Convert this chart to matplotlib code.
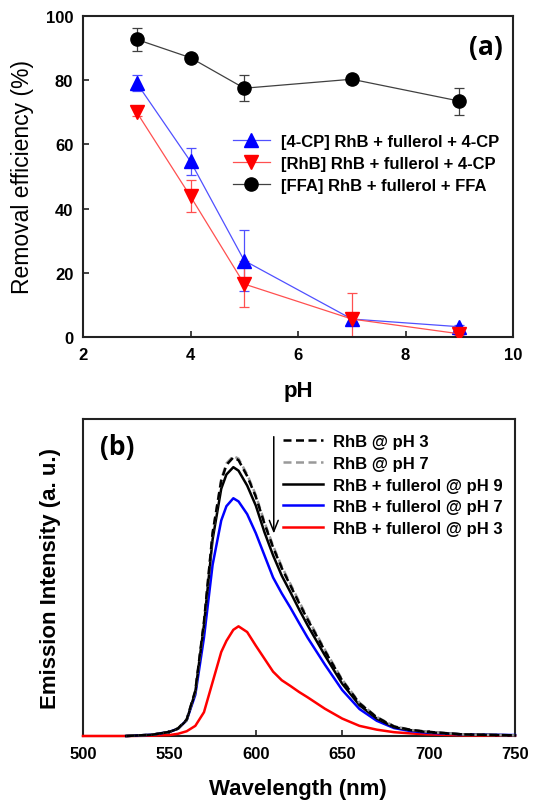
import matplotlib
matplotlib.use("Agg")
import matplotlib.pyplot as plt
import numpy as np

plt.rcParams['font.family'] = ['Liberation Sans', 'DejaVu Sans']

# ---------------- data (a) ----------------
ph = [3, 4, 5, 7, 9]
cp_eff = [79.1, 54.7, 23.8, 5.6, 3.2]
cp_err = [2.5, 4.3, 9.5, 1.0, 0.5]
rhb_eff = [70.0, 43.8, 16.5, 5.6, 1.0]
rhb_err = [1.0, 5.0, 7.3, 8.0, 0.5]
ffa_eff = [92.7, 87.0, 77.5, 80.3, 73.5]
ffa_err = [3.5, 1.0, 4.0, 1.0, 4.2]
labels_a = ["[4-CP] RhB + fullerol + 4-CP",
            "[RhB] RhB + fullerol + 4-CP",
            "[FFA] RhB + fullerol + FFA"]

# ---------------- data (b) ----------------
nan = np.nan
wl = [500, 525, 540, 550, 555, 560, 565, 570, 575, 580, 583, 587, 590, 595,
      600, 605, 610, 615, 620, 625, 630, 640, 650, 660, 670, 680, 690, 700, 720, 750]
rhb_ph3 = [nan, 0, 0.4, 1.3, 2.4, 5.2, 14.3, 36, 64, 80.5, 85.5, 87.9, 87, 82,
           75.5, 67, 59.5, 53, 47.5, 42, 36.7, 26.8, 17.5, 10.3, 5.9, 3, 1.9, 1.3, 0.5, 0.2]
rhb_ph7 = [nan, 0, 0.4, 1.3, 2.4, 5.1, 14.0, 35.5, 64, 81, 86, 88.3, 87.5, 82.5,
           76, 67.5, 60, 53.5, 48, 42.5, 37.2, 27.2, 17.8, 10.5, 6, 3.1, 1.9, 1.3, 0.5, 0.2]
ful_ph9 = [nan, 0, 0.4, 1.3, 2.3, 5, 13.9, 35, 62, 78, 82.5, 84.8, 83.7, 79,
           72.7, 64.3, 57, 50.6, 45.4, 40, 34.9, 25.4, 16.5, 9.7, 5.5, 2.8, 1.8, 1.2, 0.5, 0.2]
ful_ph7 = [nan, 0, 0.4, 1.3, 2.3, 5, 13, 31, 54, 68, 72.5, 75, 74, 70,
           64, 57, 50, 45, 40.5, 35.7, 31, 22.5, 14.5, 8.5, 4.8, 2.5, 1.5, 1.0, 0.5, 0.3]
ful_ph3 = [0, 0, 0.1, 0.3, 0.7, 1.5, 3.2, 7.5, 17, 26.5, 30, 33.5, 34.6, 32.8,
           28.5, 24.4, 20.3, 17.6, 15.8, 13.9, 12.2, 8.6, 5.5, 3.2, 2.0, 1.2, 0.8, 0.5, 0.2, 0.1]
labels_b = ["RhB @ pH 3", "RhB @ pH 7", "RhB + fullerol @ pH 9",
            "RhB + fullerol @ pH 7", "RhB + fullerol @ pH 3"]

fig = plt.figure(figsize=(5.39, 8.04), dpi=100)
W, H = 539, 804
ax1 = fig.add_axes([83 / W, 1 - 338 / H, 430 / W, 321 / H])
ax2 = fig.add_axes([83 / W, 1 - 737 / H, 432 / W, 317 / H])

for ax in (ax1, ax2):
    for sp in ax.spines.values():
        sp.set_color('#222222')
        sp.set_linewidth(1.5)
    ax.tick_params(direction='in', length=4, width=1.2, color='#222222',
                   labelsize=12, pad=7)

# ---- panel (a)
specs = [(cp_eff, cp_err, '^', '#0000ff', '#5050ff'),
         (rhb_eff, rhb_err, 'v', '#ff0000', '#ff5050'),
         (ffa_eff, ffa_err, 'o', '#000000', '#404040')]
handles = []
for (y, e, m, c, lc), lab in zip(specs, labels_a):
    ax1.errorbar(ph, y, yerr=e, fmt='none', ecolor=lc, elinewidth=0.9,
                 capsize=3.5, capthick=0.9, zorder=2)
    h, = ax1.plot(ph, y, '-', color=lc, lw=0.9, marker=m, ms=9.5,
                  mfc=c, mec=c, label=lab, zorder=3)
    handles.append(h)
ax1.set_xlim(2, 10)
ax1.set_ylim(0, 100)
ax1.set_xticks([2, 4, 6, 8, 10])
ax1.set_yticks([0, 20, 40, 60, 80, 100])
for t in ax1.get_xticklabels() + ax1.get_yticklabels():
    t.set_fontweight('bold')
ax1.set_xlabel('pH', fontsize=16, fontweight='bold', va='center')
ax1.xaxis.set_label_coords(0.5, -0.168)
ax1.set_ylabel('Removal efficiency (%)', fontsize=16.5, va='center')
ax1.yaxis.set_label_coords(-0.14, 0.5)
ax1.legend(handles=handles, loc='upper left', bbox_to_anchor=(0.349, 0.632),
           frameon=False, prop={'weight': 'bold', 'size': 12},
           handlelength=2.2, handletextpad=0.7, labelspacing=0.42,
           borderpad=0, borderaxespad=0, numpoints=1)
ax1.text(0.937, 0.905, '(a)', transform=ax1.transAxes, ha='center', va='center',
         fontsize=19, fontweight='bold', family=['Open Sans', 'DejaVu Sans'])

# ---- panel (b)
ax2.plot(wl, ful_ph3, color='#ff0000', lw=1.8, label=labels_b[4], zorder=3, clip_on=False)
ax2.plot(wl, ful_ph7, color='#0000ff', lw=1.8, label=labels_b[3], zorder=4, clip_on=False)
ax2.plot(wl, ful_ph9, color='#000000', lw=1.8, label=labels_b[2], zorder=5, clip_on=False)
ax2.plot(wl, rhb_ph7, color='#999999', lw=1.8, ls=(0, (3.2, 1.8)), label=labels_b[1],
         zorder=6, clip_on=False)
ax2.plot(wl, rhb_ph3, color='#000000', lw=1.8, ls=(0, (3.2, 1.8)), label=labels_b[0],
         zorder=7, clip_on=False)
h_b, l_b = ax2.get_legend_handles_labels()
order = [4, 3, 2, 1, 0]
ax2.legend([h_b[i] for i in order], [l_b[i] for i in order], loc='upper left',
           bbox_to_anchor=(0.463, 0.952), frameon=False,
           prop={'weight': 'bold', 'size': 12}, handlelength=2.4,
           handletextpad=0.6, labelspacing=0.4, borderpad=0, borderaxespad=0)
ax2.annotate('', xy=(610.4, 63), xytext=(610.4, 95.3),
             arrowprops=dict(arrowstyle='->,head_length=0.8,head_width=0.32',
                             lw=1.1, color='black'))
ax2.set_xlim(500, 750)
ax2.set_ylim(0, 100)
ax2.set_xticks([500, 550, 600, 650, 700, 750])
ax2.set_yticks([])
for t in ax2.get_xticklabels():
    t.set_fontweight('bold')
ax2.set_xlabel('Wavelength (nm)', fontsize=16, fontweight='bold', va='center')
ax2.xaxis.set_label_coords(0.498, -0.167)
ax2.set_ylabel('Emission Intensity (a. u.)', fontsize=16, fontweight='bold', va='center')
ax2.yaxis.set_label_coords(-0.076, 0.5)
ax2.text(0.08, 0.913, '(b)', transform=ax2.transAxes, ha='center', va='center',
         fontsize=19, fontweight='bold', family=['Open Sans', 'DejaVu Sans'])

fig.savefig('out.png', dpi=100)
